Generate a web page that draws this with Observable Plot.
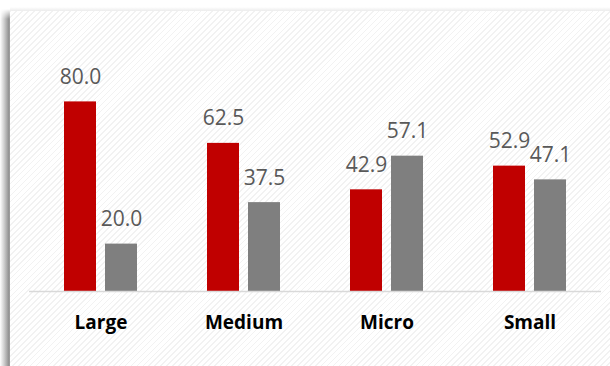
<!DOCTYPE html>
<html>
<head>
<meta charset="utf-8">
<script src="https://cdn.jsdelivr.net/npm/d3@7"></script>
<script src="https://cdn.jsdelivr.net/npm/@observablehq/plot@0.6"></script>
<style>
  html, body { margin: 0; padding: 0; background: #fff; }
  #wrap { position: relative; width: 610px; height: 366px; overflow: hidden; }
  #shadow { position: absolute; left: 0; top: 9px; width: 10px; height: 360px;
    background: linear-gradient(to right, #ffffff 0%, #d0d0d0 40%, #8f8f8f 90%, #a8a8a8 100%);
    -webkit-mask-image: linear-gradient(to bottom, transparent 0, #000 10px);
    mask-image: linear-gradient(to bottom, transparent 0, #000 10px); }
  #topshadow { position: absolute; left: 10px; top: 7px; width: 600px; height: 4px;
    background: linear-gradient(to bottom, #ffffff, #ececec); }
  #box { position: absolute; left: 10px; top: 11px; width: 600px; height: 355px;
    background: repeating-linear-gradient(135deg, #f2f2f2 0 1.2px, #ffffff 1.2px 4.2px); }
  #chart { position: absolute; left: 0; top: 0; }
  #chart svg { background: transparent !important; }
</style>
</head>
<body>
<div id="wrap">
  <div id="topshadow"></div>
  <div id="shadow"></div>
  <div id="box"></div>
  <div id="chart"></div>
</div>
<script>
const categories = ["Large", "Medium", "Micro", "Small"];
const seriesRed = [80.0, 62.5, 42.9, 52.9];
const seriesGray = [20.0, 37.5, 57.1, 47.1];

const redData = categories.map((c, i) => ({cat: c, v: seriesRed[i]}));
const grayData = categories.map((c, i) => ({cat: c, v: seriesGray[i]}));

const chart = Plot.plot({
  width: 610,
  height: 366,
  marginTop: 54,
  marginBottom: 75,
  marginLeft: 29,
  marginRight: 9,
  style: {fontFamily: "'Open Sans', sans-serif", background: "transparent"},
  x: {domain: categories, paddingInner: 0.49, paddingOuter: 0.245, label: null},
  y: {domain: [0, 100], axis: null},
  marks: [
    Plot.barY(redData, {x: "cat", y: "v", fill: "#C00000", insetLeft: 0, insetRight: 41}),
    Plot.barY(grayData, {x: "cat", y: "v", fill: "#7F7F7F", insetLeft: 41, insetRight: 0}),
    Plot.ruleY([0], {stroke: "#d9d9d9", strokeWidth: 1.5}),
    Plot.text(redData, {x: "cat", y: "v", text: d => d.v.toFixed(1), dx: -20.5, dy: -18,
      lineAnchor: "bottom", fontSize: 21, fill: "#595959"}),
    Plot.text(grayData, {x: "cat", y: "v", text: d => d.v.toFixed(1), dx: 20.5, dy: -18,
      lineAnchor: "bottom", fontSize: 21, fill: "#595959"}),
    Plot.axisX({tickSize: 0, tickPadding: 24, fontSize: 19, fontWeight: "bold", fill: "#000", label: null})
  ]
});
document.getElementById("chart").appendChild(chart);
</script>
</body>
</html>
